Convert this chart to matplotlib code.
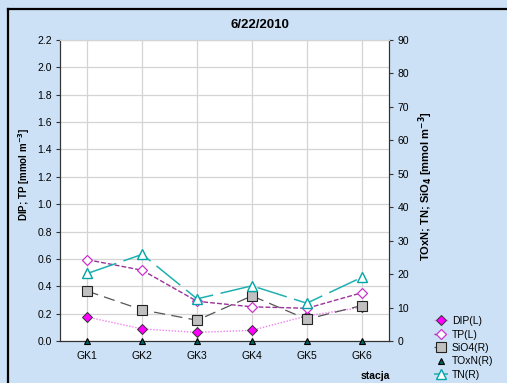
import numpy as np
import matplotlib
matplotlib.use("Agg")
import matplotlib.pyplot as plt
from matplotlib.lines import Line2D

plt.rcParams['font.family'] = ['Liberation Sans', 'DejaVu Sans']

# Stations and measured concentrations
stations = ["GK1", "GK2", "GK3", "GK4", "GK5", "GK6"]
dip = [0.175, 0.088, 0.063, 0.078, 0.183, 0.246]   # left axis
tp = [0.594, 0.517, 0.29, 0.25, 0.239, 0.352]      # left axis
sio4 = [14.9, 9.3, 6.2, 13.5, 6.5, 10.6]           # right axis
toxn = [0.0, 0.0, 0.0, 0.0, 0.0, 0.0]              # right axis
tn = [20.2, 25.9, 12.6, 16.5, 11.3, 19.0]          # right axis

bg = "#CCE1F6"
W, H = 507, 383
fig = plt.figure(figsize=(W / 100, H / 100), dpi=100, facecolor=bg)

# Chart area frame, only top and left edges fall inside the image
fig.add_artist(Line2D([8 / W, 1.0], [1 - 9 / H, 1 - 9 / H], transform=fig.transFigure,
                      color="black", linewidth=1.6))
fig.add_artist(Line2D([8 / W, 8 / W], [0.0, 1 - 9 / H], transform=fig.transFigure,
                      color="black", linewidth=1.6))

ax = fig.add_axes([60 / W, (H - 341) / H, (389 - 60) / W, (341 - 40) / H])
ax.set_facecolor("white")
ax2 = ax.twinx()

x = np.arange(len(stations))

ax.set_xlim(-0.5, 5.5)
ax.set_ylim(0, 2.2)
ax.set_yticks(np.arange(0, 2.21, 0.2))
ax.set_yticklabels([f"{v:.1f}" for v in np.arange(0, 2.21, 0.2)])
ax.set_xticks(x)
ax.set_xticklabels(stations)
ax2.set_ylim(0, 90)
ax2.set_yticks(np.arange(0, 91, 10))

ax.grid(True, color="#D4D4D4", linewidth=0.9)
ax.set_axisbelow(True)
for a in (ax, ax2):
    a.spines["top"].set_color("#D4D4D4")
    a.spines["left"].set_color("#333333")
    a.spines["bottom"].set_color("#333333")
    a.spines["right"].set_color("#333333")
ax.tick_params(axis="y", labelsize=7.5, length=3, color="#333333", pad=3)
ax.tick_params(axis="x", labelsize=7.5, length=0, pad=7)
ax2.tick_params(axis="y", labelsize=7.5, length=3, color="#333333", pad=3)

l1, = ax.plot(x, dip, linestyle=(0, (1, 1.2)), color="#F080F0", linewidth=1,
              marker="D", markersize=5.5, markerfacecolor="#FF00FF",
              markeredgecolor="#333333", markeredgewidth=0.7, label="DIP(L)", zorder=4)
l2, = ax.plot(x, tp, linestyle=(0, (3.5, 1.5)), color="#993399", linewidth=1,
              marker="D", markersize=5.5, markerfacecolor="white",
              markeredgecolor="#CC33CC", markeredgewidth=0.9, label="TP(L)", zorder=4)
l3, = ax2.plot(x, sio4, linestyle=(0, (9, 5)), color="#555555", linewidth=0.9,
               marker="s", markersize=7.5, markerfacecolor="#C0C0C0",
               markeredgecolor="#222222", markeredgewidth=0.8, label="SiO4(R)", zorder=4)
l4, = ax2.plot(x, toxn, linestyle="none", color="black",
               marker="^", markersize=5, markerfacecolor="#006060",
               markeredgecolor="black", markeredgewidth=0.8, label="TOxN(R)", zorder=5,
               clip_on=False)
l5, = ax2.plot(x, tn, linestyle=(0, (20, 5)), color="#20B0B0", linewidth=1.1,
               marker="^", markersize=7.5, markerfacecolor="white",
               markeredgecolor="#00A6A6", markeredgewidth=1.0, label="TN(R)", zorder=4)

fig.text(260 / W, 1 - 25 / H, "6/22/2010", ha="center", va="center",
         fontsize=9.5, fontweight="bold")
fig.text(24 / W, 1 - 174 / H, "DIP; TP [mmol m$^{\\mathbf{-3}}$]", rotation=90,
         ha="center", va="center", fontsize=7, fontweight="bold",
         family=["Liberation Sans Narrow", "Liberation Sans", "DejaVu Sans"])
fig.text(426 / W, 1 - 186 / H, "TOxN; TN; SiO$_\\mathbf{4}$ [mmol m$^{\\mathbf{-3}}$]",
         rotation=90, ha="center", va="center", fontsize=8, fontweight="bold")
fig.text(375 / W, 1 - 376 / H, "stacja", ha="center", va="center",
         fontsize=7.5, fontweight="bold")

leg = fig.legend(handles=[l1, l2, l3, l4, l5], loc="center left",
                 bbox_to_anchor=(434 / W, 1 - 348 / H), frameon=False, fontsize=7.5,
                 handlelength=1.3, handletextpad=0.4, labelspacing=0.33,
                 borderaxespad=0.0, borderpad=0.0)

fig.savefig("out.png", dpi=100, facecolor=bg)
